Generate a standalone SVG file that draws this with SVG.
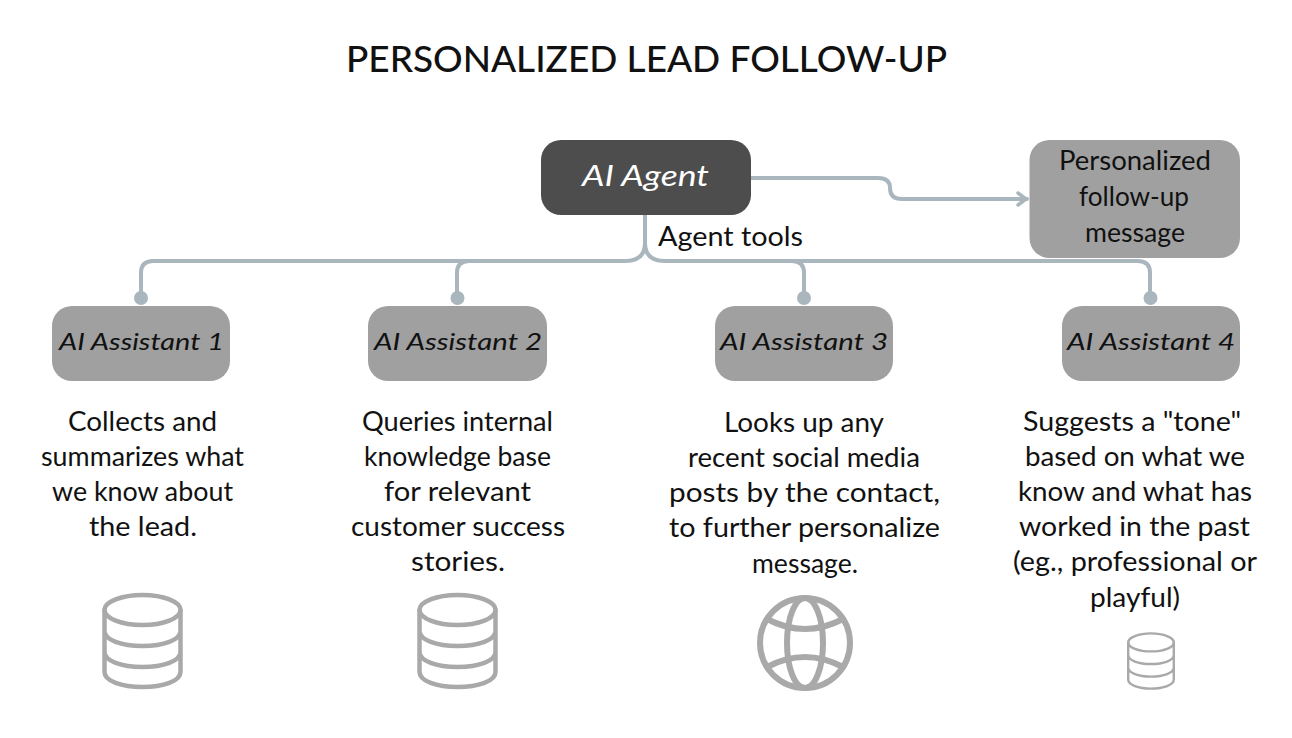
<svg xmlns="http://www.w3.org/2000/svg" width="1292" height="738" viewBox="0 0 1292 738">
<defs>
<style>
text{font-family:"Lato","Open Sans","Liberation Sans",sans-serif;fill:#111;text-anchor:middle;dominant-baseline:central}
.t{font-size:36px;font-weight:500}
.n{font-size:28px}
.a{font-size:24px;font-style:italic}
.d{font-size:26px}
.box{fill:#a0a0a0}
.con{fill:none;stroke:#a9b6bd;stroke-width:4;stroke-linecap:round}
.ic{fill:none;stroke:#a9a9a9;stroke-width:4.5;stroke-linecap:round}
</style>
<marker id="arr" viewBox="0 0 12 16" refX="11" refY="8" markerWidth="12" markerHeight="16" markerUnits="userSpaceOnUse" orient="auto"><path d="M2 2L10 8L2 14" fill="none" stroke="#a9b6bd" stroke-width="3.5" stroke-linecap="round"/></marker>
<g id="db"><ellipse cx="0" cy="-31" rx="38" ry="15"/><path d="M-38 -31V31C-38 40-21 46 0 46S38 40 38 31V-31M-38 -10C-38 -1-21 5 0 5S38 -1 38 -10M-38 11C-38 20-21 26 0 26S38 20 38 11"/></g>
</defs>
<rect width="1292" height="738" fill="#fff"/>
<text class="t" x="646.500" y="58" textLength="601" lengthAdjust="spacingAndGlyphs">PERSONALIZED LEAD FOLLOW-UP</text>
<g id="connectors">
<path class="con" d="M751 178H878Q890 178 890 188Q890 199 902 199H1027" marker-end="url(#arr)"/>
<path class="con" d="M645 215V243Q645 261 625 261H153Q141 261 141 273V298"/>
<path class="con" d="M469 261Q457 261 457 273V298"/>
<path class="con" d="M645 243Q645 261 665 261H1138Q1150 261 1150 273V298"/>
<path class="con" d="M792 261Q804 261 804 273V298"/>
<g fill="#a9b6bd"><circle cx="141" cy="298" r="7"/><circle cx="457.500" cy="298" r="7"/><circle cx="804" cy="298" r="7"/><circle cx="1150.500" cy="298" r="7"/></g>
<text class="d" x="730.500" y="236" textLength="145" lengthAdjust="spacingAndGlyphs">Agent tools</text>
</g>
<g id="agent"><rect x="541" y="140" width="210" height="75" rx="20" fill="#4d4d4d"/><text class="n" x="645.500" y="175" textLength="127" lengthAdjust="spacingAndGlyphs" style="fill:#fff;font-style:italic">AI Agent</text></g>
<g id="followup"><rect class="box" x="1029.500" y="140" width="210.500" height="118" rx="20"/><text class="d" x="1135" y="160" textLength="152" lengthAdjust="spacingAndGlyphs">Personalized</text><text class="d" x="1134" y="196" textLength="110" lengthAdjust="spacingAndGlyphs">follow-up</text><text class="d" x="1135" y="232" textLength="100" lengthAdjust="spacingAndGlyphs">message</text></g>
<g id="assistant1"><rect class="box" x="52" y="306" width="178" height="75" rx="20"/><text class="a" x="141.500" y="340" textLength="165" lengthAdjust="spacingAndGlyphs">AI Assistant 1</text></g>
<g id="assistant2"><rect class="box" x="368" y="306" width="179" height="75" rx="20"/><text class="a" x="458" y="340" textLength="168" lengthAdjust="spacingAndGlyphs">AI Assistant 2</text></g>
<g id="assistant3"><rect class="box" x="715" y="306" width="178" height="75" rx="20"/><text class="a" x="804" y="340" textLength="168" lengthAdjust="spacingAndGlyphs">AI Assistant 3</text></g>
<g id="assistant4"><rect class="box" x="1062" y="306" width="178" height="75" rx="20"/><text class="a" x="1151" y="340" textLength="168" lengthAdjust="spacingAndGlyphs">AI Assistant 4</text></g>
<g id="desc1">
<text class="d" x="142.500" y="421" textLength="149" lengthAdjust="spacingAndGlyphs">Collects and</text>
<text class="d" x="142.500" y="456" textLength="203" lengthAdjust="spacingAndGlyphs">summarizes what</text>
<text class="d" x="142.500" y="491" textLength="181" lengthAdjust="spacingAndGlyphs">we know about</text>
<text class="d" x="143" y="526" textLength="108" lengthAdjust="spacingAndGlyphs">the lead.</text>
</g>
<g id="desc2">
<text class="d" x="457.500" y="421" textLength="191" lengthAdjust="spacingAndGlyphs">Queries internal</text>
<text class="d" x="457.500" y="456" textLength="187" lengthAdjust="spacingAndGlyphs">knowledge base</text>
<text class="d" x="457.500" y="491" textLength="147" lengthAdjust="spacingAndGlyphs">for relevant</text>
<text class="d" x="458" y="526" textLength="214" lengthAdjust="spacingAndGlyphs">customer success</text>
<text class="d" x="458" y="561" textLength="94" lengthAdjust="spacingAndGlyphs">stories.</text>
</g>
<g id="desc3">
<text class="d" x="804" y="422" textLength="160" lengthAdjust="spacingAndGlyphs">Looks up any</text>
<text class="d" x="804" y="457" textLength="232" lengthAdjust="spacingAndGlyphs">recent social media</text>
<text class="d" x="804.500" y="492" textLength="271" lengthAdjust="spacingAndGlyphs">posts by the contact,</text>
<text class="d" x="804.500" y="527" textLength="271" lengthAdjust="spacingAndGlyphs">to further personalize</text>
<text class="d" x="805" y="563" textLength="106" lengthAdjust="spacingAndGlyphs">message.</text>
</g>
<g id="desc4">
<text class="d" x="1132" y="421" textLength="218" lengthAdjust="spacingAndGlyphs">Suggests a "tone"</text>
<text class="d" x="1135" y="456" textLength="220" lengthAdjust="spacingAndGlyphs">based on what we</text>
<text class="d" x="1135" y="491" textLength="234" lengthAdjust="spacingAndGlyphs">know and what has</text>
<text class="d" x="1134.500" y="526" textLength="231" lengthAdjust="spacingAndGlyphs">worked in the past</text>
<text class="d" x="1135" y="561" textLength="244" lengthAdjust="spacingAndGlyphs">(eg., professional or</text>
<text class="d" x="1135" y="597" textLength="90" lengthAdjust="spacingAndGlyphs">playful)</text>
</g>
<g id="icon1" class="ic"><use href="#db" x="142.500" y="641"/></g>
<g id="icon2" class="ic"><use href="#db" x="457.500" y="641"/></g>
<g id="icon3" class="ic" style="stroke-width:6">
<circle cx="805" cy="643" r="45"/><ellipse cx="805" cy="643" rx="18" ry="45"/>
<path d="M767 619Q805 639 843 619M767 667Q805 647 843 667"/>
</g>
<g id="icon4" class="ic" style="stroke-width:4"><use href="#db" transform="translate(1151 661) scale(.6)"/></g>
</svg>
